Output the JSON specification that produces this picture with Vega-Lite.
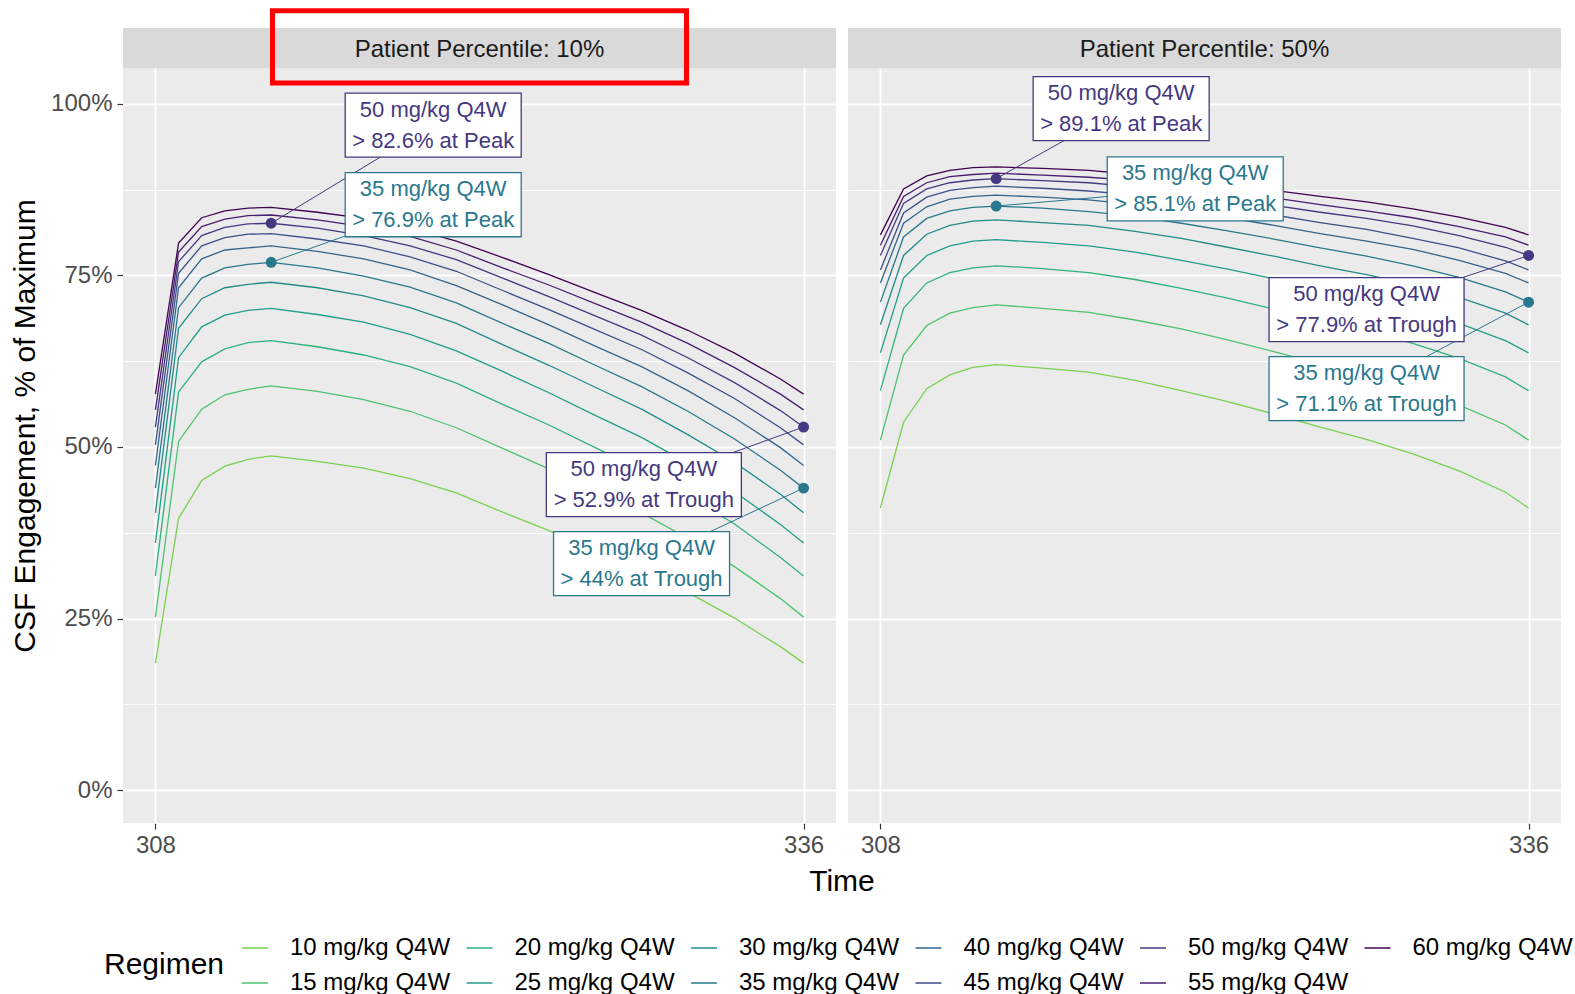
{
  "$schema": "https://vega.github.io/schema/vega-lite/v6.json",
  "background": "white",
  "padding": {"left": 10, "top": 0, "right": 17, "bottom": 0},
  "data": {"values": [
    {"k":"s","p":"10%","s":"Patient Percentile: 10%"},
    {"k":"s","p":"50%","s":"Patient Percentile: 50%"},

    {"k":"l","p":"10%","r":"50 mg/kg Q4W","t":313,"v":82.6,"lt":320.0,"lv":96.9,"txt":"50 mg/kg Q4W\n> 82.6% at Peak"},
    {"k":"l","p":"10%","r":"35 mg/kg Q4W","t":313,"v":76.9,"lt":320.0,"lv":85.3,"txt":"35 mg/kg Q4W\n> 76.9% at Peak"},
    {"k":"l","p":"10%","r":"50 mg/kg Q4W","t":336,"v":52.9,"lt":329.1,"lv":44.5,"txt":"50 mg/kg Q4W\n> 52.9% at Trough"},
    {"k":"l","p":"10%","r":"35 mg/kg Q4W","t":336,"v":44.0,"lt":329.0,"lv":33.0,"txt":"35 mg/kg Q4W\n> 44% at Trough"},
    {"k":"l","p":"50%","r":"50 mg/kg Q4W","t":313,"v":89.1,"lt":318.4,"lv":99.3,"txt":"50 mg/kg Q4W\n> 89.1% at Peak"},
    {"k":"l","p":"50%","r":"35 mg/kg Q4W","t":313,"v":85.1,"lt":321.6,"lv":87.6,"txt":"35 mg/kg Q4W\n> 85.1% at Peak"},
    {"k":"l","p":"50%","r":"50 mg/kg Q4W","t":336,"v":77.9,"lt":329.0,"lv":70.0,"txt":"50 mg/kg Q4W\n> 77.9% at Trough"},
    {"k":"l","p":"50%","r":"35 mg/kg Q4W","t":336,"v":71.1,"lt":329.0,"lv":58.5,"txt":"35 mg/kg Q4W\n> 71.1% at Trough"},

    {"k":"c","p":"10%","r":"10 mg/kg Q4W","t":308,"v":18.5},{"k":"c","p":"10%","r":"10 mg/kg Q4W","t":309,"v":39.6},{"k":"c","p":"10%","r":"10 mg/kg Q4W","t":310,"v":45.1},{"k":"c","p":"10%","r":"10 mg/kg Q4W","t":311,"v":47.2},{"k":"c","p":"10%","r":"10 mg/kg Q4W","t":312,"v":48.2},{"k":"c","p":"10%","r":"10 mg/kg Q4W","t":313,"v":48.7},{"k":"c","p":"10%","r":"10 mg/kg Q4W","t":315,"v":47.9},{"k":"c","p":"10%","r":"10 mg/kg Q4W","t":317,"v":46.9},{"k":"c","p":"10%","r":"10 mg/kg Q4W","t":319,"v":45.4},{"k":"c","p":"10%","r":"10 mg/kg Q4W","t":321,"v":43.3},{"k":"c","p":"10%","r":"10 mg/kg Q4W","t":323,"v":40.5},{"k":"c","p":"10%","r":"10 mg/kg Q4W","t":325,"v":37.8},{"k":"c","p":"10%","r":"10 mg/kg Q4W","t":327,"v":35.0},{"k":"c","p":"10%","r":"10 mg/kg Q4W","t":329,"v":32.1},{"k":"c","p":"10%","r":"10 mg/kg Q4W","t":331,"v":28.8},{"k":"c","p":"10%","r":"10 mg/kg Q4W","t":333,"v":25.1},{"k":"c","p":"10%","r":"10 mg/kg Q4W","t":335,"v":20.9},{"k":"c","p":"10%","r":"10 mg/kg Q4W","t":336,"v":18.5},
    {"k":"c","p":"10%","r":"15 mg/kg Q4W","t":308,"v":25.2},{"k":"c","p":"10%","r":"15 mg/kg Q4W","t":309,"v":50.8},{"k":"c","p":"10%","r":"15 mg/kg Q4W","t":310,"v":55.5},{"k":"c","p":"10%","r":"15 mg/kg Q4W","t":311,"v":57.6},{"k":"c","p":"10%","r":"15 mg/kg Q4W","t":312,"v":58.4},{"k":"c","p":"10%","r":"15 mg/kg Q4W","t":313,"v":58.9},{"k":"c","p":"10%","r":"15 mg/kg Q4W","t":315,"v":58.1},{"k":"c","p":"10%","r":"15 mg/kg Q4W","t":317,"v":56.9},{"k":"c","p":"10%","r":"15 mg/kg Q4W","t":319,"v":55.2},{"k":"c","p":"10%","r":"15 mg/kg Q4W","t":321,"v":52.8},{"k":"c","p":"10%","r":"15 mg/kg Q4W","t":323,"v":49.8},{"k":"c","p":"10%","r":"15 mg/kg Q4W","t":325,"v":46.8},{"k":"c","p":"10%","r":"15 mg/kg Q4W","t":327,"v":43.6},{"k":"c","p":"10%","r":"15 mg/kg Q4W","t":329,"v":40.4},{"k":"c","p":"10%","r":"15 mg/kg Q4W","t":331,"v":36.7},{"k":"c","p":"10%","r":"15 mg/kg Q4W","t":333,"v":32.6},{"k":"c","p":"10%","r":"15 mg/kg Q4W","t":335,"v":27.9},{"k":"c","p":"10%","r":"15 mg/kg Q4W","t":336,"v":25.2},
    {"k":"c","p":"10%","r":"20 mg/kg Q4W","t":308,"v":31.2},{"k":"c","p":"10%","r":"20 mg/kg Q4W","t":309,"v":58.0},{"k":"c","p":"10%","r":"20 mg/kg Q4W","t":310,"v":62.4},{"k":"c","p":"10%","r":"20 mg/kg Q4W","t":311,"v":64.3},{"k":"c","p":"10%","r":"20 mg/kg Q4W","t":312,"v":65.2},{"k":"c","p":"10%","r":"20 mg/kg Q4W","t":313,"v":65.5},{"k":"c","p":"10%","r":"20 mg/kg Q4W","t":315,"v":64.6},{"k":"c","p":"10%","r":"20 mg/kg Q4W","t":317,"v":63.4},{"k":"c","p":"10%","r":"20 mg/kg Q4W","t":319,"v":61.7},{"k":"c","p":"10%","r":"20 mg/kg Q4W","t":321,"v":59.3},{"k":"c","p":"10%","r":"20 mg/kg Q4W","t":323,"v":56.2},{"k":"c","p":"10%","r":"20 mg/kg Q4W","t":325,"v":53.2},{"k":"c","p":"10%","r":"20 mg/kg Q4W","t":327,"v":49.9},{"k":"c","p":"10%","r":"20 mg/kg Q4W","t":329,"v":46.6},{"k":"c","p":"10%","r":"20 mg/kg Q4W","t":331,"v":42.9},{"k":"c","p":"10%","r":"20 mg/kg Q4W","t":333,"v":38.8},{"k":"c","p":"10%","r":"20 mg/kg Q4W","t":335,"v":33.9},{"k":"c","p":"10%","r":"20 mg/kg Q4W","t":336,"v":31.2},
    {"k":"c","p":"10%","r":"25 mg/kg Q4W","t":308,"v":36.0},{"k":"c","p":"10%","r":"25 mg/kg Q4W","t":309,"v":63.0},{"k":"c","p":"10%","r":"25 mg/kg Q4W","t":310,"v":67.5},{"k":"c","p":"10%","r":"25 mg/kg Q4W","t":311,"v":69.2},{"k":"c","p":"10%","r":"25 mg/kg Q4W","t":312,"v":69.9},{"k":"c","p":"10%","r":"25 mg/kg Q4W","t":313,"v":70.2},{"k":"c","p":"10%","r":"25 mg/kg Q4W","t":315,"v":69.3},{"k":"c","p":"10%","r":"25 mg/kg Q4W","t":317,"v":68.2},{"k":"c","p":"10%","r":"25 mg/kg Q4W","t":319,"v":66.4},{"k":"c","p":"10%","r":"25 mg/kg Q4W","t":321,"v":64.0},{"k":"c","p":"10%","r":"25 mg/kg Q4W","t":323,"v":61.0},{"k":"c","p":"10%","r":"25 mg/kg Q4W","t":325,"v":57.9},{"k":"c","p":"10%","r":"25 mg/kg Q4W","t":327,"v":54.6},{"k":"c","p":"10%","r":"25 mg/kg Q4W","t":329,"v":51.4},{"k":"c","p":"10%","r":"25 mg/kg Q4W","t":331,"v":47.6},{"k":"c","p":"10%","r":"25 mg/kg Q4W","t":333,"v":43.5},{"k":"c","p":"10%","r":"25 mg/kg Q4W","t":335,"v":38.7},{"k":"c","p":"10%","r":"25 mg/kg Q4W","t":336,"v":36.0},
    {"k":"c","p":"10%","r":"30 mg/kg Q4W","t":308,"v":40.4},{"k":"c","p":"10%","r":"30 mg/kg Q4W","t":309,"v":67.3},{"k":"c","p":"10%","r":"30 mg/kg Q4W","t":310,"v":71.6},{"k":"c","p":"10%","r":"30 mg/kg Q4W","t":311,"v":73.2},{"k":"c","p":"10%","r":"30 mg/kg Q4W","t":312,"v":73.7},{"k":"c","p":"10%","r":"30 mg/kg Q4W","t":313,"v":74.0},{"k":"c","p":"10%","r":"30 mg/kg Q4W","t":315,"v":73.2},{"k":"c","p":"10%","r":"30 mg/kg Q4W","t":317,"v":72.0},{"k":"c","p":"10%","r":"30 mg/kg Q4W","t":319,"v":70.3},{"k":"c","p":"10%","r":"30 mg/kg Q4W","t":321,"v":68.0},{"k":"c","p":"10%","r":"30 mg/kg Q4W","t":323,"v":64.9},{"k":"c","p":"10%","r":"30 mg/kg Q4W","t":325,"v":61.9},{"k":"c","p":"10%","r":"30 mg/kg Q4W","t":327,"v":58.7},{"k":"c","p":"10%","r":"30 mg/kg Q4W","t":329,"v":55.5},{"k":"c","p":"10%","r":"30 mg/kg Q4W","t":331,"v":51.8},{"k":"c","p":"10%","r":"30 mg/kg Q4W","t":333,"v":47.8},{"k":"c","p":"10%","r":"30 mg/kg Q4W","t":335,"v":43.1},{"k":"c","p":"10%","r":"30 mg/kg Q4W","t":336,"v":40.4},
    {"k":"c","p":"10%","r":"35 mg/kg Q4W","t":308,"v":44.0},{"k":"c","p":"10%","r":"35 mg/kg Q4W","t":309,"v":70.3},{"k":"c","p":"10%","r":"35 mg/kg Q4W","t":310,"v":74.6},{"k":"c","p":"10%","r":"35 mg/kg Q4W","t":311,"v":76.1},{"k":"c","p":"10%","r":"35 mg/kg Q4W","t":312,"v":76.6},{"k":"c","p":"10%","r":"35 mg/kg Q4W","t":313,"v":76.9},{"k":"c","p":"10%","r":"35 mg/kg Q4W","t":315,"v":76.1},{"k":"c","p":"10%","r":"35 mg/kg Q4W","t":317,"v":74.9},{"k":"c","p":"10%","r":"35 mg/kg Q4W","t":319,"v":73.3},{"k":"c","p":"10%","r":"35 mg/kg Q4W","t":321,"v":71.0},{"k":"c","p":"10%","r":"35 mg/kg Q4W","t":323,"v":68.0},{"k":"c","p":"10%","r":"35 mg/kg Q4W","t":325,"v":65.1},{"k":"c","p":"10%","r":"35 mg/kg Q4W","t":327,"v":61.9},{"k":"c","p":"10%","r":"35 mg/kg Q4W","t":329,"v":58.8},{"k":"c","p":"10%","r":"35 mg/kg Q4W","t":331,"v":55.2},{"k":"c","p":"10%","r":"35 mg/kg Q4W","t":333,"v":51.2},{"k":"c","p":"10%","r":"35 mg/kg Q4W","t":335,"v":46.6},{"k":"c","p":"10%","r":"35 mg/kg Q4W","t":336,"v":44.0},
    {"k":"c","p":"10%","r":"40 mg/kg Q4W","t":308,"v":47.3},{"k":"c","p":"10%","r":"40 mg/kg Q4W","t":309,"v":73.2},{"k":"c","p":"10%","r":"40 mg/kg Q4W","t":310,"v":77.4},{"k":"c","p":"10%","r":"40 mg/kg Q4W","t":311,"v":78.7},{"k":"c","p":"10%","r":"40 mg/kg Q4W","t":312,"v":79.0},{"k":"c","p":"10%","r":"40 mg/kg Q4W","t":313,"v":79.3},{"k":"c","p":"10%","r":"40 mg/kg Q4W","t":315,"v":78.5},{"k":"c","p":"10%","r":"40 mg/kg Q4W","t":317,"v":77.4},{"k":"c","p":"10%","r":"40 mg/kg Q4W","t":319,"v":75.8},{"k":"c","p":"10%","r":"40 mg/kg Q4W","t":321,"v":73.5},{"k":"c","p":"10%","r":"40 mg/kg Q4W","t":323,"v":70.7},{"k":"c","p":"10%","r":"40 mg/kg Q4W","t":325,"v":67.8},{"k":"c","p":"10%","r":"40 mg/kg Q4W","t":327,"v":64.7},{"k":"c","p":"10%","r":"40 mg/kg Q4W","t":329,"v":61.7},{"k":"c","p":"10%","r":"40 mg/kg Q4W","t":331,"v":58.2},{"k":"c","p":"10%","r":"40 mg/kg Q4W","t":333,"v":54.3},{"k":"c","p":"10%","r":"40 mg/kg Q4W","t":335,"v":49.9},{"k":"c","p":"10%","r":"40 mg/kg Q4W","t":336,"v":47.3},
    {"k":"c","p":"10%","r":"45 mg/kg Q4W","t":308,"v":50.3},{"k":"c","p":"10%","r":"45 mg/kg Q4W","t":309,"v":75.3},{"k":"c","p":"10%","r":"45 mg/kg Q4W","t":310,"v":79.3},{"k":"c","p":"10%","r":"45 mg/kg Q4W","t":311,"v":80.5},{"k":"c","p":"10%","r":"45 mg/kg Q4W","t":312,"v":81.0},{"k":"c","p":"10%","r":"45 mg/kg Q4W","t":313,"v":81.1},{"k":"c","p":"10%","r":"45 mg/kg Q4W","t":315,"v":80.3},{"k":"c","p":"10%","r":"45 mg/kg Q4W","t":317,"v":79.3},{"k":"c","p":"10%","r":"45 mg/kg Q4W","t":319,"v":77.7},{"k":"c","p":"10%","r":"45 mg/kg Q4W","t":321,"v":75.6},{"k":"c","p":"10%","r":"45 mg/kg Q4W","t":323,"v":72.8},{"k":"c","p":"10%","r":"45 mg/kg Q4W","t":325,"v":70.0},{"k":"c","p":"10%","r":"45 mg/kg Q4W","t":327,"v":67.1},{"k":"c","p":"10%","r":"45 mg/kg Q4W","t":329,"v":64.2},{"k":"c","p":"10%","r":"45 mg/kg Q4W","t":331,"v":60.8},{"k":"c","p":"10%","r":"45 mg/kg Q4W","t":333,"v":57.1},{"k":"c","p":"10%","r":"45 mg/kg Q4W","t":335,"v":52.8},{"k":"c","p":"10%","r":"45 mg/kg Q4W","t":336,"v":50.3},
    {"k":"c","p":"10%","r":"50 mg/kg Q4W","t":308,"v":52.9},{"k":"c","p":"10%","r":"50 mg/kg Q4W","t":309,"v":77.0},{"k":"c","p":"10%","r":"50 mg/kg Q4W","t":310,"v":80.8},{"k":"c","p":"10%","r":"50 mg/kg Q4W","t":311,"v":82.0},{"k":"c","p":"10%","r":"50 mg/kg Q4W","t":312,"v":82.5},{"k":"c","p":"10%","r":"50 mg/kg Q4W","t":313,"v":82.6},{"k":"c","p":"10%","r":"50 mg/kg Q4W","t":315,"v":81.9},{"k":"c","p":"10%","r":"50 mg/kg Q4W","t":317,"v":80.8},{"k":"c","p":"10%","r":"50 mg/kg Q4W","t":319,"v":79.3},{"k":"c","p":"10%","r":"50 mg/kg Q4W","t":321,"v":77.3},{"k":"c","p":"10%","r":"50 mg/kg Q4W","t":323,"v":74.6},{"k":"c","p":"10%","r":"50 mg/kg Q4W","t":325,"v":71.9},{"k":"c","p":"10%","r":"50 mg/kg Q4W","t":327,"v":69.1},{"k":"c","p":"10%","r":"50 mg/kg Q4W","t":329,"v":66.3},{"k":"c","p":"10%","r":"50 mg/kg Q4W","t":331,"v":63.0},{"k":"c","p":"10%","r":"50 mg/kg Q4W","t":333,"v":59.4},{"k":"c","p":"10%","r":"50 mg/kg Q4W","t":335,"v":55.3},{"k":"c","p":"10%","r":"50 mg/kg Q4W","t":336,"v":52.9},
    {"k":"c","p":"10%","r":"55 mg/kg Q4W","t":308,"v":55.4},{"k":"c","p":"10%","r":"55 mg/kg Q4W","t":309,"v":78.4},{"k":"c","p":"10%","r":"55 mg/kg Q4W","t":310,"v":82.1},{"k":"c","p":"10%","r":"55 mg/kg Q4W","t":311,"v":83.2},{"k":"c","p":"10%","r":"55 mg/kg Q4W","t":312,"v":83.7},{"k":"c","p":"10%","r":"55 mg/kg Q4W","t":313,"v":83.8},{"k":"c","p":"10%","r":"55 mg/kg Q4W","t":315,"v":83.1},{"k":"c","p":"10%","r":"55 mg/kg Q4W","t":317,"v":82.1},{"k":"c","p":"10%","r":"55 mg/kg Q4W","t":319,"v":80.7},{"k":"c","p":"10%","r":"55 mg/kg Q4W","t":321,"v":78.7},{"k":"c","p":"10%","r":"55 mg/kg Q4W","t":323,"v":76.1},{"k":"c","p":"10%","r":"55 mg/kg Q4W","t":325,"v":73.6},{"k":"c","p":"10%","r":"55 mg/kg Q4W","t":327,"v":70.9},{"k":"c","p":"10%","r":"55 mg/kg Q4W","t":329,"v":68.2},{"k":"c","p":"10%","r":"55 mg/kg Q4W","t":331,"v":65.1},{"k":"c","p":"10%","r":"55 mg/kg Q4W","t":333,"v":61.6},{"k":"c","p":"10%","r":"55 mg/kg Q4W","t":335,"v":57.7},{"k":"c","p":"10%","r":"55 mg/kg Q4W","t":336,"v":55.4},
    {"k":"c","p":"10%","r":"60 mg/kg Q4W","t":308,"v":57.7},{"k":"c","p":"10%","r":"60 mg/kg Q4W","t":309,"v":79.7},{"k":"c","p":"10%","r":"60 mg/kg Q4W","t":310,"v":83.4},{"k":"c","p":"10%","r":"60 mg/kg Q4W","t":311,"v":84.4},{"k":"c","p":"10%","r":"60 mg/kg Q4W","t":312,"v":84.8},{"k":"c","p":"10%","r":"60 mg/kg Q4W","t":313,"v":84.9},{"k":"c","p":"10%","r":"60 mg/kg Q4W","t":315,"v":84.2},{"k":"c","p":"10%","r":"60 mg/kg Q4W","t":317,"v":83.3},{"k":"c","p":"10%","r":"60 mg/kg Q4W","t":319,"v":81.9},{"k":"c","p":"10%","r":"60 mg/kg Q4W","t":321,"v":80.0},{"k":"c","p":"10%","r":"60 mg/kg Q4W","t":323,"v":77.6},{"k":"c","p":"10%","r":"60 mg/kg Q4W","t":325,"v":75.1},{"k":"c","p":"10%","r":"60 mg/kg Q4W","t":327,"v":72.5},{"k":"c","p":"10%","r":"60 mg/kg Q4W","t":329,"v":69.9},{"k":"c","p":"10%","r":"60 mg/kg Q4W","t":331,"v":67.0},{"k":"c","p":"10%","r":"60 mg/kg Q4W","t":333,"v":63.7},{"k":"c","p":"10%","r":"60 mg/kg Q4W","t":335,"v":59.9},{"k":"c","p":"10%","r":"60 mg/kg Q4W","t":336,"v":57.7},

    {"k":"c","p":"50%","r":"10 mg/kg Q4W","t":308,"v":41.1},{"k":"c","p":"50%","r":"10 mg/kg Q4W","t":309,"v":53.6},{"k":"c","p":"50%","r":"10 mg/kg Q4W","t":310,"v":58.5},{"k":"c","p":"50%","r":"10 mg/kg Q4W","t":311,"v":60.5},{"k":"c","p":"50%","r":"10 mg/kg Q4W","t":312,"v":61.6},{"k":"c","p":"50%","r":"10 mg/kg Q4W","t":313,"v":62.0},{"k":"c","p":"50%","r":"10 mg/kg Q4W","t":315,"v":61.5},{"k":"c","p":"50%","r":"10 mg/kg Q4W","t":317,"v":60.9},{"k":"c","p":"50%","r":"10 mg/kg Q4W","t":319,"v":59.7},{"k":"c","p":"50%","r":"10 mg/kg Q4W","t":321,"v":58.2},{"k":"c","p":"50%","r":"10 mg/kg Q4W","t":323,"v":56.6},{"k":"c","p":"50%","r":"10 mg/kg Q4W","t":325,"v":54.8},{"k":"c","p":"50%","r":"10 mg/kg Q4W","t":327,"v":52.9},{"k":"c","p":"50%","r":"10 mg/kg Q4W","t":329,"v":51.1},{"k":"c","p":"50%","r":"10 mg/kg Q4W","t":331,"v":49.0},{"k":"c","p":"50%","r":"10 mg/kg Q4W","t":333,"v":46.5},{"k":"c","p":"50%","r":"10 mg/kg Q4W","t":335,"v":43.4},{"k":"c","p":"50%","r":"10 mg/kg Q4W","t":336,"v":41.1},
    {"k":"c","p":"50%","r":"15 mg/kg Q4W","t":308,"v":51.0},{"k":"c","p":"50%","r":"15 mg/kg Q4W","t":309,"v":63.4},{"k":"c","p":"50%","r":"15 mg/kg Q4W","t":310,"v":67.7},{"k":"c","p":"50%","r":"15 mg/kg Q4W","t":311,"v":69.5},{"k":"c","p":"50%","r":"15 mg/kg Q4W","t":312,"v":70.3},{"k":"c","p":"50%","r":"15 mg/kg Q4W","t":313,"v":70.7},{"k":"c","p":"50%","r":"15 mg/kg Q4W","t":315,"v":70.2},{"k":"c","p":"50%","r":"15 mg/kg Q4W","t":317,"v":69.6},{"k":"c","p":"50%","r":"15 mg/kg Q4W","t":319,"v":68.5},{"k":"c","p":"50%","r":"15 mg/kg Q4W","t":321,"v":67.2},{"k":"c","p":"50%","r":"15 mg/kg Q4W","t":323,"v":65.6},{"k":"c","p":"50%","r":"15 mg/kg Q4W","t":325,"v":63.9},{"k":"c","p":"50%","r":"15 mg/kg Q4W","t":327,"v":62.1},{"k":"c","p":"50%","r":"15 mg/kg Q4W","t":329,"v":60.5},{"k":"c","p":"50%","r":"15 mg/kg Q4W","t":331,"v":58.5},{"k":"c","p":"50%","r":"15 mg/kg Q4W","t":333,"v":56.1},{"k":"c","p":"50%","r":"15 mg/kg Q4W","t":335,"v":53.2},{"k":"c","p":"50%","r":"15 mg/kg Q4W","t":336,"v":51.0},
    {"k":"c","p":"50%","r":"20 mg/kg Q4W","t":308,"v":58.2},{"k":"c","p":"50%","r":"20 mg/kg Q4W","t":309,"v":70.2},{"k":"c","p":"50%","r":"20 mg/kg Q4W","t":310,"v":73.9},{"k":"c","p":"50%","r":"20 mg/kg Q4W","t":311,"v":75.4},{"k":"c","p":"50%","r":"20 mg/kg Q4W","t":312,"v":76.1},{"k":"c","p":"50%","r":"20 mg/kg Q4W","t":313,"v":76.4},{"k":"c","p":"50%","r":"20 mg/kg Q4W","t":315,"v":76.0},{"k":"c","p":"50%","r":"20 mg/kg Q4W","t":317,"v":75.4},{"k":"c","p":"50%","r":"20 mg/kg Q4W","t":319,"v":74.4},{"k":"c","p":"50%","r":"20 mg/kg Q4W","t":321,"v":73.1},{"k":"c","p":"50%","r":"20 mg/kg Q4W","t":323,"v":71.7},{"k":"c","p":"50%","r":"20 mg/kg Q4W","t":325,"v":70.1},{"k":"c","p":"50%","r":"20 mg/kg Q4W","t":327,"v":68.5},{"k":"c","p":"50%","r":"20 mg/kg Q4W","t":329,"v":66.9},{"k":"c","p":"50%","r":"20 mg/kg Q4W","t":331,"v":65.1},{"k":"c","p":"50%","r":"20 mg/kg Q4W","t":333,"v":62.9},{"k":"c","p":"50%","r":"20 mg/kg Q4W","t":335,"v":60.2},{"k":"c","p":"50%","r":"20 mg/kg Q4W","t":336,"v":58.2},
    {"k":"c","p":"50%","r":"25 mg/kg Q4W","t":308,"v":63.7},{"k":"c","p":"50%","r":"25 mg/kg Q4W","t":309,"v":74.6},{"k":"c","p":"50%","r":"25 mg/kg Q4W","t":310,"v":77.9},{"k":"c","p":"50%","r":"25 mg/kg Q4W","t":311,"v":79.3},{"k":"c","p":"50%","r":"25 mg/kg Q4W","t":312,"v":80.0},{"k":"c","p":"50%","r":"25 mg/kg Q4W","t":313,"v":80.2},{"k":"c","p":"50%","r":"25 mg/kg Q4W","t":315,"v":79.8},{"k":"c","p":"50%","r":"25 mg/kg Q4W","t":317,"v":79.3},{"k":"c","p":"50%","r":"25 mg/kg Q4W","t":319,"v":78.4},{"k":"c","p":"50%","r":"25 mg/kg Q4W","t":321,"v":77.2},{"k":"c","p":"50%","r":"25 mg/kg Q4W","t":323,"v":75.9},{"k":"c","p":"50%","r":"25 mg/kg Q4W","t":325,"v":74.5},{"k":"c","p":"50%","r":"25 mg/kg Q4W","t":327,"v":73.0},{"k":"c","p":"50%","r":"25 mg/kg Q4W","t":329,"v":71.6},{"k":"c","p":"50%","r":"25 mg/kg Q4W","t":331,"v":70.0},{"k":"c","p":"50%","r":"25 mg/kg Q4W","t":333,"v":68.0},{"k":"c","p":"50%","r":"25 mg/kg Q4W","t":335,"v":65.5},{"k":"c","p":"50%","r":"25 mg/kg Q4W","t":336,"v":63.7},
    {"k":"c","p":"50%","r":"30 mg/kg Q4W","t":308,"v":67.8},{"k":"c","p":"50%","r":"30 mg/kg Q4W","t":309,"v":77.9},{"k":"c","p":"50%","r":"30 mg/kg Q4W","t":310,"v":81.0},{"k":"c","p":"50%","r":"30 mg/kg Q4W","t":311,"v":82.3},{"k":"c","p":"50%","r":"30 mg/kg Q4W","t":312,"v":82.9},{"k":"c","p":"50%","r":"30 mg/kg Q4W","t":313,"v":83.1},{"k":"c","p":"50%","r":"30 mg/kg Q4W","t":315,"v":82.7},{"k":"c","p":"50%","r":"30 mg/kg Q4W","t":317,"v":82.3},{"k":"c","p":"50%","r":"30 mg/kg Q4W","t":319,"v":81.4},{"k":"c","p":"50%","r":"30 mg/kg Q4W","t":321,"v":80.4},{"k":"c","p":"50%","r":"30 mg/kg Q4W","t":323,"v":79.1},{"k":"c","p":"50%","r":"30 mg/kg Q4W","t":325,"v":77.8},{"k":"c","p":"50%","r":"30 mg/kg Q4W","t":327,"v":76.4},{"k":"c","p":"50%","r":"30 mg/kg Q4W","t":329,"v":75.1},{"k":"c","p":"50%","r":"30 mg/kg Q4W","t":331,"v":73.6},{"k":"c","p":"50%","r":"30 mg/kg Q4W","t":333,"v":71.8},{"k":"c","p":"50%","r":"30 mg/kg Q4W","t":335,"v":69.5},{"k":"c","p":"50%","r":"30 mg/kg Q4W","t":336,"v":67.8},
    {"k":"c","p":"50%","r":"35 mg/kg Q4W","t":308,"v":71.1},{"k":"c","p":"50%","r":"35 mg/kg Q4W","t":309,"v":80.6},{"k":"c","p":"50%","r":"35 mg/kg Q4W","t":310,"v":83.3},{"k":"c","p":"50%","r":"35 mg/kg Q4W","t":311,"v":84.4},{"k":"c","p":"50%","r":"35 mg/kg Q4W","t":312,"v":84.9},{"k":"c","p":"50%","r":"35 mg/kg Q4W","t":313,"v":85.1},{"k":"c","p":"50%","r":"35 mg/kg Q4W","t":315,"v":84.8},{"k":"c","p":"50%","r":"35 mg/kg Q4W","t":317,"v":84.3},{"k":"c","p":"50%","r":"35 mg/kg Q4W","t":319,"v":83.6},{"k":"c","p":"50%","r":"35 mg/kg Q4W","t":321,"v":82.6},{"k":"c","p":"50%","r":"35 mg/kg Q4W","t":323,"v":81.5},{"k":"c","p":"50%","r":"35 mg/kg Q4W","t":325,"v":80.3},{"k":"c","p":"50%","r":"35 mg/kg Q4W","t":327,"v":79.0},{"k":"c","p":"50%","r":"35 mg/kg Q4W","t":329,"v":77.8},{"k":"c","p":"50%","r":"35 mg/kg Q4W","t":331,"v":76.4},{"k":"c","p":"50%","r":"35 mg/kg Q4W","t":333,"v":74.7},{"k":"c","p":"50%","r":"35 mg/kg Q4W","t":335,"v":72.6},{"k":"c","p":"50%","r":"35 mg/kg Q4W","t":336,"v":71.1},
    {"k":"c","p":"50%","r":"40 mg/kg Q4W","t":308,"v":73.9},{"k":"c","p":"50%","r":"40 mg/kg Q4W","t":309,"v":82.6},{"k":"c","p":"50%","r":"40 mg/kg Q4W","t":310,"v":85.0},{"k":"c","p":"50%","r":"40 mg/kg Q4W","t":311,"v":86.1},{"k":"c","p":"50%","r":"40 mg/kg Q4W","t":312,"v":86.5},{"k":"c","p":"50%","r":"40 mg/kg Q4W","t":313,"v":86.7},{"k":"c","p":"50%","r":"40 mg/kg Q4W","t":315,"v":86.4},{"k":"c","p":"50%","r":"40 mg/kg Q4W","t":317,"v":86.0},{"k":"c","p":"50%","r":"40 mg/kg Q4W","t":319,"v":85.3},{"k":"c","p":"50%","r":"40 mg/kg Q4W","t":321,"v":84.4},{"k":"c","p":"50%","r":"40 mg/kg Q4W","t":323,"v":83.4},{"k":"c","p":"50%","r":"40 mg/kg Q4W","t":325,"v":82.3},{"k":"c","p":"50%","r":"40 mg/kg Q4W","t":327,"v":81.1},{"k":"c","p":"50%","r":"40 mg/kg Q4W","t":329,"v":80.0},{"k":"c","p":"50%","r":"40 mg/kg Q4W","t":331,"v":78.8},{"k":"c","p":"50%","r":"40 mg/kg Q4W","t":333,"v":77.2},{"k":"c","p":"50%","r":"40 mg/kg Q4W","t":335,"v":75.3},{"k":"c","p":"50%","r":"40 mg/kg Q4W","t":336,"v":73.9},
    {"k":"c","p":"50%","r":"45 mg/kg Q4W","t":308,"v":75.8},{"k":"c","p":"50%","r":"45 mg/kg Q4W","t":309,"v":84.1},{"k":"c","p":"50%","r":"45 mg/kg Q4W","t":310,"v":86.4},{"k":"c","p":"50%","r":"45 mg/kg Q4W","t":311,"v":87.4},{"k":"c","p":"50%","r":"45 mg/kg Q4W","t":312,"v":87.8},{"k":"c","p":"50%","r":"45 mg/kg Q4W","t":313,"v":88.0},{"k":"c","p":"50%","r":"45 mg/kg Q4W","t":315,"v":87.7},{"k":"c","p":"50%","r":"45 mg/kg Q4W","t":317,"v":87.3},{"k":"c","p":"50%","r":"45 mg/kg Q4W","t":319,"v":86.7},{"k":"c","p":"50%","r":"45 mg/kg Q4W","t":321,"v":85.8},{"k":"c","p":"50%","r":"45 mg/kg Q4W","t":323,"v":84.8},{"k":"c","p":"50%","r":"45 mg/kg Q4W","t":325,"v":83.8},{"k":"c","p":"50%","r":"45 mg/kg Q4W","t":327,"v":82.7},{"k":"c","p":"50%","r":"45 mg/kg Q4W","t":329,"v":81.7},{"k":"c","p":"50%","r":"45 mg/kg Q4W","t":331,"v":80.4},{"k":"c","p":"50%","r":"45 mg/kg Q4W","t":333,"v":79.0},{"k":"c","p":"50%","r":"45 mg/kg Q4W","t":335,"v":77.1},{"k":"c","p":"50%","r":"45 mg/kg Q4W","t":336,"v":75.8},
    {"k":"c","p":"50%","r":"50 mg/kg Q4W","t":308,"v":77.9},{"k":"c","p":"50%","r":"50 mg/kg Q4W","t":309,"v":85.5},{"k":"c","p":"50%","r":"50 mg/kg Q4W","t":310,"v":87.6},{"k":"c","p":"50%","r":"50 mg/kg Q4W","t":311,"v":88.5},{"k":"c","p":"50%","r":"50 mg/kg Q4W","t":312,"v":88.9},{"k":"c","p":"50%","r":"50 mg/kg Q4W","t":313,"v":89.1},{"k":"c","p":"50%","r":"50 mg/kg Q4W","t":315,"v":88.8},{"k":"c","p":"50%","r":"50 mg/kg Q4W","t":317,"v":88.5},{"k":"c","p":"50%","r":"50 mg/kg Q4W","t":319,"v":87.9},{"k":"c","p":"50%","r":"50 mg/kg Q4W","t":321,"v":87.1},{"k":"c","p":"50%","r":"50 mg/kg Q4W","t":323,"v":86.2},{"k":"c","p":"50%","r":"50 mg/kg Q4W","t":325,"v":85.2},{"k":"c","p":"50%","r":"50 mg/kg Q4W","t":327,"v":84.2},{"k":"c","p":"50%","r":"50 mg/kg Q4W","t":329,"v":83.3},{"k":"c","p":"50%","r":"50 mg/kg Q4W","t":331,"v":82.2},{"k":"c","p":"50%","r":"50 mg/kg Q4W","t":333,"v":80.8},{"k":"c","p":"50%","r":"50 mg/kg Q4W","t":335,"v":79.1},{"k":"c","p":"50%","r":"50 mg/kg Q4W","t":336,"v":77.9},
    {"k":"c","p":"50%","r":"55 mg/kg Q4W","t":308,"v":79.4},{"k":"c","p":"50%","r":"55 mg/kg Q4W","t":309,"v":86.5},{"k":"c","p":"50%","r":"55 mg/kg Q4W","t":310,"v":88.5},{"k":"c","p":"50%","r":"55 mg/kg Q4W","t":311,"v":89.4},{"k":"c","p":"50%","r":"55 mg/kg Q4W","t":312,"v":89.7},{"k":"c","p":"50%","r":"55 mg/kg Q4W","t":313,"v":89.9},{"k":"c","p":"50%","r":"55 mg/kg Q4W","t":315,"v":89.6},{"k":"c","p":"50%","r":"55 mg/kg Q4W","t":317,"v":89.3},{"k":"c","p":"50%","r":"55 mg/kg Q4W","t":319,"v":88.8},{"k":"c","p":"50%","r":"55 mg/kg Q4W","t":321,"v":88.0},{"k":"c","p":"50%","r":"55 mg/kg Q4W","t":323,"v":87.2},{"k":"c","p":"50%","r":"55 mg/kg Q4W","t":325,"v":86.3},{"k":"c","p":"50%","r":"55 mg/kg Q4W","t":327,"v":85.3},{"k":"c","p":"50%","r":"55 mg/kg Q4W","t":329,"v":84.4},{"k":"c","p":"50%","r":"55 mg/kg Q4W","t":331,"v":83.4},{"k":"c","p":"50%","r":"55 mg/kg Q4W","t":333,"v":82.1},{"k":"c","p":"50%","r":"55 mg/kg Q4W","t":335,"v":80.6},{"k":"c","p":"50%","r":"55 mg/kg Q4W","t":336,"v":79.4},
    {"k":"c","p":"50%","r":"60 mg/kg Q4W","t":308,"v":80.9},{"k":"c","p":"50%","r":"60 mg/kg Q4W","t":309,"v":87.6},{"k":"c","p":"50%","r":"60 mg/kg Q4W","t":310,"v":89.5},{"k":"c","p":"50%","r":"60 mg/kg Q4W","t":311,"v":90.3},{"k":"c","p":"50%","r":"60 mg/kg Q4W","t":312,"v":90.7},{"k":"c","p":"50%","r":"60 mg/kg Q4W","t":313,"v":90.8},{"k":"c","p":"50%","r":"60 mg/kg Q4W","t":315,"v":90.6},{"k":"c","p":"50%","r":"60 mg/kg Q4W","t":317,"v":90.3},{"k":"c","p":"50%","r":"60 mg/kg Q4W","t":319,"v":89.7},{"k":"c","p":"50%","r":"60 mg/kg Q4W","t":321,"v":89.0},{"k":"c","p":"50%","r":"60 mg/kg Q4W","t":323,"v":88.2},{"k":"c","p":"50%","r":"60 mg/kg Q4W","t":325,"v":87.4},{"k":"c","p":"50%","r":"60 mg/kg Q4W","t":327,"v":86.5},{"k":"c","p":"50%","r":"60 mg/kg Q4W","t":329,"v":85.7},{"k":"c","p":"50%","r":"60 mg/kg Q4W","t":331,"v":84.7},{"k":"c","p":"50%","r":"60 mg/kg Q4W","t":333,"v":83.5},{"k":"c","p":"50%","r":"60 mg/kg Q4W","t":335,"v":82.0},{"k":"c","p":"50%","r":"60 mg/kg Q4W","t":336,"v":80.9}
  ]},
  "facet": {
    "column": {
      "field": "p",
      "type": "nominal",
      "header": {
        "labels": false,
        "title": "Time",
        "titleOrient": "bottom",
        "titleFontSize": 30,
        "titleFontWeight": "normal",
        "titleColor": "black",
        "titlePadding": 0
      }
    }
  },
  "spacing": 12,
  "spec": {
    "width": 713,
    "height": 795,
    "layer": [
      {
        "transform": [{"filter": "datum.k == 'c'"}],
        "mark": {"type": "line", "strokeWidth": 1.3},
        "encoding": {
          "x": {
            "field": "t", "type": "quantitative",
            "scale": {"domain": [306.6, 337.4], "nice": false, "zero": false},
            "axis": {
              "title": null, "values": [308, 336], "format": "d", "domain": false,
              "grid": true, "gridColor": "white", "gridWidth": 1.8,
              "tickColor": "#333333", "tickSize": 6, "tickWidth": 1.2,
              "labelFontSize": 24, "labelColor": "#4D4D4D", "labelPadding": 4
            }
          },
          "y": {
            "field": "v", "type": "quantitative",
            "scale": {"domain": [-4.8, 111.05], "nice": false, "zero": false},
            "axis": {
              "title": "CSF Engagement, % of Maximum",
              "values": [0, 12.5, 25, 37.5, 50, 62.5, 75, 87.5, 100],
              "labelExpr": "datum.value % 25 == 0 ? datum.value + '%' : ''",
              "tickOpacity": {"condition": {"test": "datum.value % 25 != 0", "value": 0}, "value": 1},
              "gridWidth": {"condition": {"test": "datum.value % 25 != 0", "value": 0.9}, "value": 1.8},
              "domain": false, "grid": true, "gridColor": "white",
              "tickColor": "#333333", "tickSize": 6, "tickWidth": 1.2,
              "labelFontSize": 24, "labelColor": "#4D4D4D", "labelPadding": 5,
              "titleFontSize": 30, "titleFontWeight": "normal", "titleColor": "black", "titlePadding": 10
            }
          },
          "color": {
            "field": "r", "type": "nominal",
            "scale": {
              "domain": ["10 mg/kg Q4W", "20 mg/kg Q4W", "30 mg/kg Q4W", "40 mg/kg Q4W", "50 mg/kg Q4W", "60 mg/kg Q4W",
                         "15 mg/kg Q4W", "25 mg/kg Q4W", "35 mg/kg Q4W", "45 mg/kg Q4W", "55 mg/kg Q4W"],
              "range": ["#7AD151", "#2FB17C", "#238B8C", "#33658D", "#443880", "#440154",
                        "#4EC36B", "#219E87", "#2A788E", "#3C4F89", "#481E70"]
            },
            "legend": {
              "title": "Regimen", "orient": "none", "legendX": -19, "legendY": 906,
              "direction": "horizontal", "columns": 6,
              "symbolType": "stroke", "symbolSize": 676, "symbolStrokeWidth": 1.5,
              "labelFontSize": 24, "labelColor": "black", "labelOffset": 21, "labelLimit": 0,
              "titleFontSize": 30, "titleFontWeight": "normal", "titleColor": "black",
              "titleOrient": "left", "titleAnchor": "middle", "titleBaseline": "middle", "titlePadding": 16,
              "columnPadding": 12.5, "rowPadding": 9
            }
          }
        }
      },
      {
        "transform": [{"filter": "datum.k == 'l'"}],
        "mark": {"type": "rule", "strokeWidth": 1},
        "encoding": {
          "x": {"field": "t", "type": "quantitative"},
          "y": {"field": "v", "type": "quantitative"},
          "x2": {"field": "lt"},
          "y2": {"field": "lv"},
          "color": {"field": "r", "type": "nominal", "legend": null}
        }
      },
      {
        "transform": [{"filter": "datum.k == 'l'"}],
        "mark": {"type": "point", "filled": true, "size": 120, "opacity": 1},
        "encoding": {
          "x": {"field": "t", "type": "quantitative"},
          "y": {"field": "v", "type": "quantitative"},
          "color": {"field": "r", "type": "nominal", "legend": null}
        }
      },
      {
        "transform": [{"filter": "datum.k == 'l'"}],
        "mark": {"type": "point", "filled": false, "fill": "white", "strokeWidth": 1.3, "opacity": 1},
        "encoding": {
          "x": {"field": "lt", "type": "quantitative"},
          "y": {"field": "lv", "type": "quantitative"},
          "shape": {"condition": {"test": "length(datum.txt) > 29", "value": "M-1,-0.328H1V0.328H-1Z"}, "value": "M-1,-0.364H1V0.364H-1Z"},
          "size": {"condition": {"test": "length(datum.txt) > 29", "value": 38025}, "value": 30976},
          "color": {"field": "r", "type": "nominal", "legend": null}
        }
      },
      {
        "transform": [{"filter": "datum.k == 'l'"}],
        "mark": {"type": "text", "fontSize": 22, "lineHeight": 31, "lineBreak": "\n", "align": "center", "baseline": "middle", "dy": -15.5},
        "encoding": {
          "x": {"field": "lt", "type": "quantitative"},
          "y": {"field": "lv", "type": "quantitative"},
          "text": {"field": "txt"},
          "color": {"field": "r", "type": "nominal", "legend": null}
        }
      },
      {
        "transform": [{"filter": "datum.k == 's'"}],
        "mark": {"type": "rect", "color": "#D9D9D9"},
        "encoding": {
          "y": {"datum": 105.2, "type": "quantitative"},
          "y2": {"datum": 111.05}
        }
      },
      {
        "transform": [{"filter": "datum.k == 's'"}],
        "mark": {"type": "text", "fontSize": 24, "color": "#1A1A1A", "baseline": "middle", "align": "center"},
        "encoding": {
          "y": {"datum": 107.9, "type": "quantitative"},
          "text": {"field": "s"}
        }
      },
      {
        "transform": [{"filter": "datum.k == 's' && datum.p == '10%'"}],
        "mark": {"type": "point", "filled": false, "color": "#FF0000", "strokeWidth": 5, "strokeJoin": "miter", "opacity": 1,
                 "shape": "M-1,-0.174H1V0.174H-1Z", "size": 171396},
        "encoding": {
          "y": {"datum": 108.3, "type": "quantitative"}
        }
      }
    ]
  },
  "config": {
    "font": "Liberation Sans",
    "view": {"fill": "#EBEBEB", "stroke": null}
  }
}
